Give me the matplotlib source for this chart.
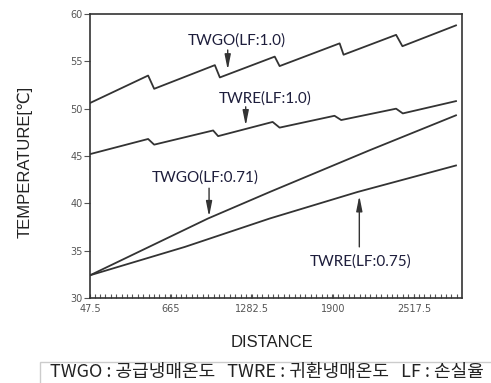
import numpy as np
import matplotlib.pyplot as plt
from matplotlib.patches import Rectangle
from matplotlib.ticker import MultipleLocator

# data
twgo_10_x = [47.5, 490, 536, 998, 1036, 1454, 1491, 1948, 1978, 2378, 2426, 2834]
twgo_10_y = [50.6, 53.5, 52.1, 54.6, 53.3, 55.5, 54.5, 56.9, 55.7, 57.8, 56.6, 58.8]

twre_10_x = [47.5, 490, 536, 985, 1023, 1438, 1491, 1909, 1960, 2378, 2429, 2834]
twre_10_y = [45.2, 46.8, 46.2, 47.7, 47.1, 48.6, 48.0, 49.25, 48.8, 50.0, 49.5, 50.8]

twgo_071_x = [47.5, 946, 1416, 2175, 2834]
twgo_071_y = [32.4, 38.4, 41.2, 45.6, 49.3]

twre_075_x = [47.5, 770, 1416, 2084, 2834]
twre_075_y = [32.4, 35.4, 38.4, 41.2, 44.0]

xticks = [47.5, 665, 1282.5, 1900, 2517.5]
xtick_labels = ['47.5', '665', '1282.5', '1900', '2517.5']
yticks = [30, 35, 40, 45, 50, 55, 60]

line_col = '#333333'
txt_col = '#1e1e3c'

fig = plt.figure(figsize=(4.91, 3.83), dpi=100)
ax = fig.add_axes([0.1833, 0.2219, 0.7577, 0.7415])

for xs, ys in [(twgo_10_x, twgo_10_y), (twre_10_x, twre_10_y),
               (twgo_071_x, twgo_071_y), (twre_075_x, twre_075_y)]:
    ax.plot(xs, ys, color=line_col, lw=1.3)

ax.set_xlim(47.5, 2880)
ax.set_ylim(30, 60)
ax.set_xticks(xticks)
ax.set_xticklabels(xtick_labels)
ax.xaxis.set_minor_locator(MultipleLocator(617.5 / 15))
ax.set_yticks(yticks)
ax.tick_params(axis='x', which='both', direction='in', length=3, width=0.8,
               colors='#555555', labelsize=7, pad=4)
ax.tick_params(axis='y', direction='out', length=4, width=0.8,
               colors='#555555', labelsize=7, pad=1)
for s in ax.spines.values():
    s.set_color('#333333')
    s.set_linewidth(1.2)

ax.set_ylabel('TEMPERATURE[℃]', fontsize=12, color='#222222',
              family=['Liberation Sans', 'DejaVu Sans'])
ax.yaxis.set_label_coords(-0.153, 0.48)
ax.set_xlabel('DISTANCE', fontsize=12, color='#222222', family='Liberation Sans')
ax.xaxis.set_label_coords(0.49, -0.13)

arrow = dict(arrowstyle='-|>,head_width=0.18,head_length=0.9', color='#333333',
             lw=1.0, shrinkA=0, shrinkB=0)
# labels with arrows
ax.text(1163, 57.25, 'TWGO(LF:1.0)', ha='center', va='center', fontsize=11,
        family='Lato', color=txt_col)
ax.annotate('', xy=(1096, 54.1), xytext=(1096, 56.2), arrowprops=arrow)

ax.text(1380, 51.1, 'TWRE(LF:1.0)', ha='center', va='center', fontsize=11,
        family='Lato', color=txt_col)
ax.annotate('', xy=(1233, 48.2), xytext=(1233, 50.2), arrowprops=arrow)

ax.text(923, 42.7, 'TWGO(LF:0.71)', ha='center', va='center', fontsize=11,
        family='Lato', color=txt_col)
ax.annotate('', xy=(954, 38.6), xytext=(954, 41.6), arrowprops=arrow)

ax.text(2111, 33.8, 'TWRE(LF:0.75)', ha='center', va='center', fontsize=11,
        family='Lato', color=txt_col)
ax.annotate('', xy=(2098, 40.8), xytext=(2098, 35.4), arrowprops=arrow)

# caption box at the bottom
fig.patches.append(Rectangle((0.081, -0.05), 1.0, 0.105, transform=fig.transFigure,
                             fill=False, edgecolor='#cccccc', lw=1.0))
fig.text(0.102, 0.029, 'TWGO : 공급냉매온도   TWRE : 귀환냉매온도   LF : 손실율',
         ha='left', va='center', fontsize=13, color='#222222',
         family=['Noto Sans CJK KR', 'DejaVu Sans'])

fig.savefig('out.png', dpi=100)
